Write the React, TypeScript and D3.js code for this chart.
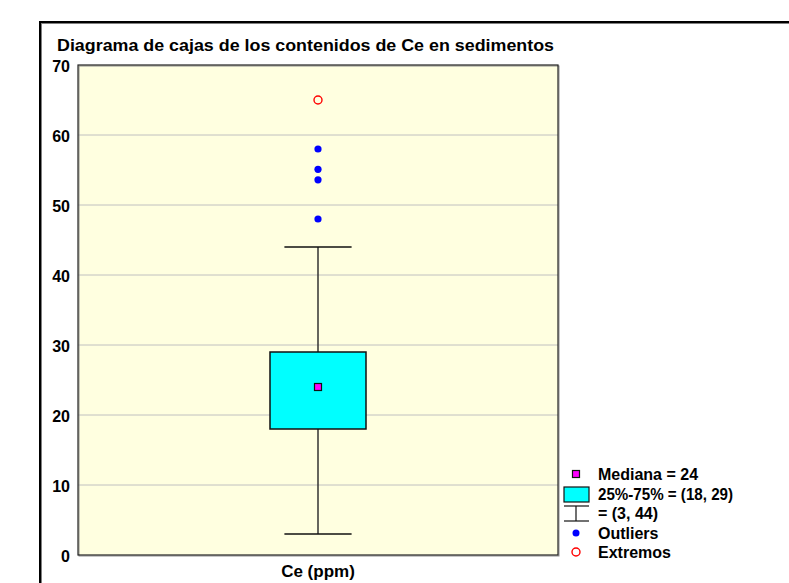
import React from "react";
import { scaleBand, scaleLinear } from "d3";

// datos
const categories = ["Ce (ppm)"];
const yTicks = [0, 10, 20, 30, 40, 50, 60, 70];
const quartiles = [18, 29];
const medians = [24];
const whiskers = [3, 44];
const outliers = [58, 55.1, 53.6, 48];
const extremes = [65];
const legendLabels = ["Mediana = 24", "25%-75% = (18, 29)", "= (3, 44)", "Outliers", "Extremos"];

const W = 789;
const H = 583;
const plot = { left: 78, top: 65, right: 558, bottom: 555 };
const font = "Arial, 'Liberation Sans', sans-serif";

export default function App() {
  const x = scaleBand<string>()
    .domain(categories)
    .range([plot.left, plot.right]);
  const y = scaleLinear().domain([0, 70]).range([plot.bottom, plot.top]);

  const cx = (x(categories[0]) ?? 0) + x.bandwidth() / 2;
  const boxW = x.bandwidth() * 0.2;
  const capW = x.bandwidth() * 0.14;

  // leyenda
  const lx = 576;
  const ly = [474, 494, 513, 533, 552];

  return (
    <svg
      width={W}
      height={H}
      style={{ position: "absolute", left: 0, top: 0, background: "#fff" }}
      fontFamily={font}
      fontWeight="bold"
    >
      {/* marco exterior */}
      <rect x={41} y={23} width={800} height={600} fill="none" stroke="#808080" strokeWidth={2} />
      <rect x={40} y={22} width={800} height={600} fill="none" stroke="#000" strokeWidth={2} />

      <text x={57} y={50.5} fontSize={17} fill="#000" textLength={497} lengthAdjust="spacingAndGlyphs">
        Diagrama de cajas de los contenidos de Ce en sedimentos
      </text>

      {/* area de trazado */}
      <rect
        x={plot.left}
        y={plot.top}
        width={plot.right - plot.left}
        height={plot.bottom - plot.top}
        fill="#ffffe0"
      />
      {yTicks.slice(1, -1).map((t) => (
        <line key={t} x1={plot.left} x2={plot.right} y1={y(t)} y2={y(t)} stroke="#c0c0c0" strokeWidth={1} />
      ))}
      <rect
        x={plot.left + 1}
        y={plot.top + 1}
        width={plot.right - plot.left}
        height={plot.bottom - plot.top}
        fill="none"
        stroke="#909090"
        strokeWidth={1}
      />
      <rect
        x={plot.left}
        y={plot.top}
        width={plot.right - plot.left}
        height={plot.bottom - plot.top}
        fill="none"
        stroke="#222"
        strokeWidth={1.2}
      />

      {yTicks.map((t) => (
        <text key={t} x={70} y={y(t) + 6.5} textAnchor="end" fontSize={16} fill="#000">
          {t}
        </text>
      ))}

      <text x={cx} y={577} textAnchor="middle" fontSize={17} fill="#000">
        {categories[0]}
      </text>

      {/* bigotes */}
      <line x1={cx} x2={cx} y1={y(whiskers[1])} y2={y(quartiles[1])} stroke="#333" strokeWidth={1.5} />
      <line x1={cx} x2={cx} y1={y(quartiles[0])} y2={y(whiskers[0])} stroke="#333" strokeWidth={1.5} />
      {whiskers.map((w) => (
        <line key={w} x1={cx - capW / 2} x2={cx + capW / 2} y1={y(w)} y2={y(w)} stroke="#111" strokeWidth={1.5} />
      ))}

      {/* caja */}
      <rect
        x={cx - boxW / 2}
        y={y(quartiles[1])}
        width={boxW}
        height={y(quartiles[0]) - y(quartiles[1])}
        fill="#00ffff"
        stroke="#111"
        strokeWidth={1.5}
      />
      {medians.map((m) => (
        <rect key={m} x={cx - 3.5} y={y(m) - 3.5} width={7} height={7} fill="#ff00ff" stroke="#111" strokeWidth={1.2} />
      ))}

      {outliers.map((o) => (
        <circle key={o} cx={cx} cy={y(o)} r={3.6} fill="#0000ff" />
      ))}
      {extremes.map((e) => (
        <circle key={e} cx={cx} cy={y(e)} r={4} fill="none" stroke="#ff0000" strokeWidth={1.4} />
      ))}

      {/* leyenda */}
      <g>
        <rect x={lx - 3.5} y={ly[0] - 3.5} width={7} height={7} fill="#ff00ff" stroke="#111" strokeWidth={1.2} />
        <rect x={564} y={487} width={25} height={15} fill="#00ffff" stroke="#111" strokeWidth={1.2} />
        <line x1={564} x2={589} y1={506} y2={506} stroke="#111" strokeWidth={1.2} />
        <line x1={564} x2={589} y1={521} y2={521} stroke="#111" strokeWidth={1.2} />
        <line x1={lx} x2={lx} y1={506} y2={521} stroke="#111" strokeWidth={1.2} />
        <circle cx={lx} cy={ly[3]} r={3.5} fill="#0000ff" />
        <circle cx={lx} cy={ly[4]} r={4} fill="none" stroke="#ff0000" strokeWidth={1.4} />
        {legendLabels.map((l, i) => (
          <text
            key={l}
            x={598}
            y={ly[i] + 6}
            fontSize={16}
            fill="#000"
            textLength={i === 1 ? 135 : undefined}
            lengthAdjust="spacingAndGlyphs"
          >
            {l}
          </text>
        ))}
      </g>
    </svg>
  );
}
